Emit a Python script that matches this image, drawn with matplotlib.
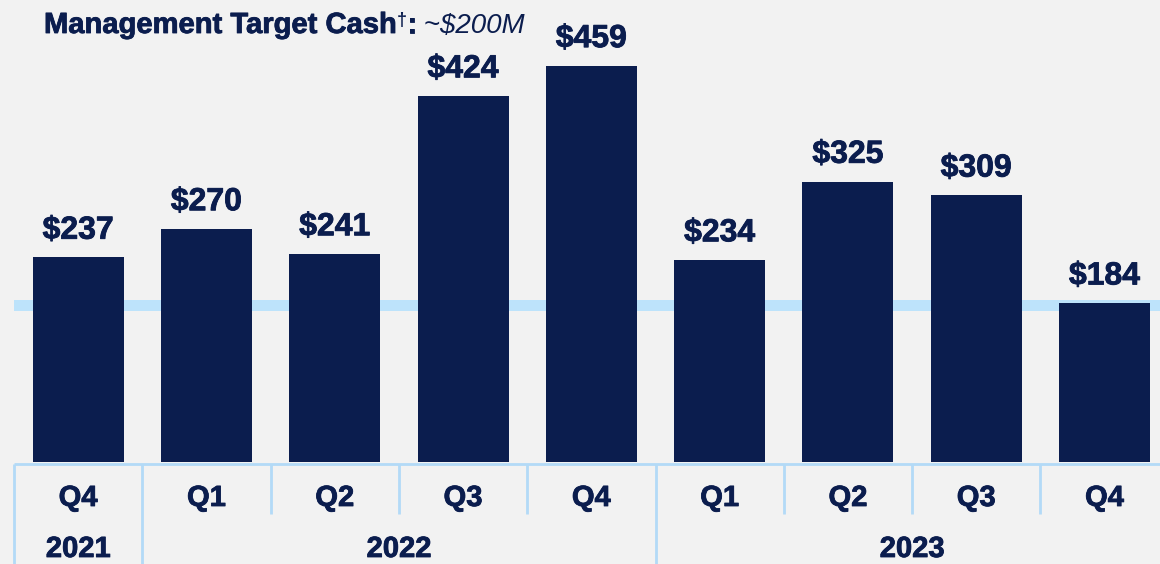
import matplotlib
matplotlib.use("Agg")
import matplotlib.pyplot as plt
import matplotlib.patheffects as pe

# quarterly cash balance, $M
quarters = ["Q4", "Q1", "Q2", "Q3", "Q4", "Q1", "Q2", "Q3", "Q4"]
years = ["2021", "2022", "2023"]
year_span = [(0, 0), (1, 4), (5, 8)]  # first/last quarter index of each year
cash = [237, 270, 241, 424, 459, 234, 325, 309, 184]
target_band = (175, 188)

navy = "#0B1D4E"
light = "#BDE3FB"
grid_blue = "#B3DAF7"
bg = "#F2F2F2"

plt.rcParams["font.family"] = ["Liberation Sans", "DejaVu Sans"]
heavy = [pe.withStroke(linewidth=0.6, foreground=navy)]

fig = plt.figure(figsize=(11.6, 5.64), dpi=100, facecolor=bg)

W, H = 1160, 564
col_w = 128.3
x0 = -0.5 - 14 / col_w
x1 = x0 + W / col_w

# bar area
ax = fig.add_axes([0, (H - 462) / H, 1, 462 / H])
ax.set_facecolor(bg)
ax.set_xlim(x0, x1)
ax.set_ylim(0, 462 / 0.863)
ax.axhspan(*target_band, xmin=14 / W, xmax=1, color=light, lw=0, zorder=1)
xs = range(len(cash))
ax.bar(xs, cash, width=0.71, color=navy, zorder=2)
for x, v in zip(xs, cash):
    ax.annotate(f"${v}", (x, v), xytext=(0, 13.5), textcoords="offset points",
                ha="center", va="baseline", fontsize=23, fontweight="bold",
                color=navy, path_effects=heavy)
ax.axis("off")

# table under bars
tx = fig.add_axes([0, 0, 1, (H - 462) / H])
tx.set_facecolor(bg)
tx.set_xlim(x0, x1)
tx.set_ylim(H, 462)
tx.axis("off")
lc = dict(color=grid_blue, lw=2, solid_capstyle="butt")
tx.plot([-0.5, x1], [464, 464], **lc)
for i in range(len(quarters)):
    tx.text(i, 498, quarters[i], ha="center", va="center",
            fontsize=21, fontweight="bold", color=navy, path_effects=heavy)
for lo, hi in year_span:
    tx.plot([lo - 0.5, lo - 0.5], [464, H], **lc)
    for b in range(lo, hi):
        tx.plot([b + 0.5, b + 0.5], [464, 514], **lc)
for (lo, hi), y in zip(year_span, years):
    tx.text((lo + hi) / 2, 549, y, ha="center", va="center",
            fontsize=21, fontweight="bold", color=navy, path_effects=heavy)

# title made of pieces
fig.canvas.draw()
r = fig.canvas.get_renderer()
parts = [("Management Target Cash", dict(fontweight="bold", fontsize=21, path_effects=heavy), 0),
         ("\u2020", dict(fontweight="bold", fontsize=13), 8),
         (":", dict(fontweight="bold", fontsize=21, path_effects=heavy), 0),
         (" ~$200M", dict(fontstyle="italic", fontsize=20), 0)]
xp = 44
for s, kw, dy in parts:
    t = fig.text(xp / W, 1 - (33 - dy) / H, s, color=navy, va="baseline", **kw)
    xp = t.get_window_extent(r).x1

fig.savefig("out.png", dpi=100, facecolor=bg)
